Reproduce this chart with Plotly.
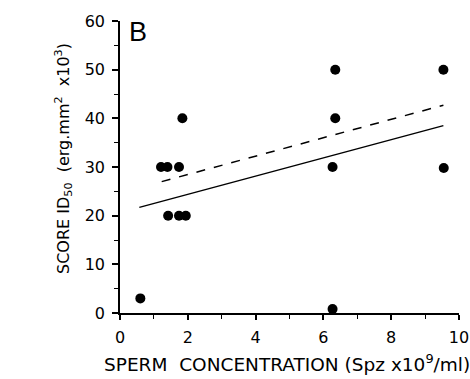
import plotly.graph_objects as go

# Data points (sperm concentration x10^9/ml, score ID50 x10^3)
conc = [0.6, 1.21, 1.40, 1.74, 1.84, 1.42, 1.74, 1.94, 6.35, 6.35, 6.27, 9.54, 9.55, 6.27]
score = [3, 30, 30, 30, 40, 20, 20, 20, 50, 40, 30, 50, 29.8, 0.8]

# Regression lines (endpoints)
solid_x = [0.57, 9.54]
solid_y = [21.7, 38.5]
dash_x = [1.23, 9.54]
dash_y = [27.0, 42.7]

x_ticks = [0, 2, 4, 6, 8, 10]
y_ticks = [0, 10, 20, 30, 40, 50, 60]

FONT = "DejaVu Sans"

fig = go.Figure()
fig.add_trace(go.Scatter(x=solid_x, y=solid_y, mode="lines",
                         line=dict(color="black", width=1.5), showlegend=False))
fig.add_trace(go.Scatter(x=dash_x, y=dash_y, mode="lines",
                         line=dict(color="black", width=1.5, dash="dash"), showlegend=False))
fig.add_trace(go.Scatter(x=conc, y=score, mode="markers",
                         marker=dict(color="black", size=10), showlegend=False))

L, R, T, B = 120, 11, 21, 66
W, H = 470, 379
pw = W - L - R
ph = H - T - B


def px(xp):
    return (xp - L) / pw


def py(yp):
    return (H - B - yp) / ph


fig.update_layout(
    width=W, height=H,
    margin=dict(l=L, r=R, t=T, b=B, autoexpand=False),
    plot_bgcolor="white", paper_bgcolor="white",
    font=dict(family=FONT, color="black", size=16),
    xaxis=dict(range=[0, 10], tickvals=x_ticks, showgrid=False, zeroline=False,
               automargin=False,
               showline=True, linecolor="black", linewidth=1.5,
               ticks="outside", ticklen=5, tickwidth=1.5, tickcolor="black",
               ticklabelstandoff=4,
               minor=dict(tickvals=[1, 3, 5, 7, 9], ticks="outside", ticklen=4,
                          tickwidth=1.2, tickcolor="black"),
               tickfont=dict(size=16, family=FONT)),
    yaxis=dict(range=[0, 60], tickvals=y_ticks, showgrid=False, zeroline=False,
               automargin=False,
               showline=True, linecolor="black", linewidth=1.5,
               ticks="outside", ticklen=6, tickwidth=1.5, tickcolor="black",
               ticklabelstandoff=4,
               minor=dict(tickvals=[5, 15, 25, 35, 45, 55], ticks="outside", ticklen=4,
                          tickwidth=1.2, tickcolor="black"),
               tickfont=dict(size=16, family=FONT)),
    annotations=[
        dict(text="B", x=0.53, y=57.7, xref="x", yref="y", showarrow=False,
             font=dict(size=27, family="Liberation Sans"), xanchor="center", yanchor="middle"),
        dict(text="SCORE ID<sub>50</sub>  (erg.mm<sup>2</sup>  x10<sup>3</sup>)",
             x=px(63), y=py(158), xref="paper", yref="paper", showarrow=False, textangle=-90,
             font=dict(size=16, family=FONT), xanchor="center", yanchor="middle"),
        dict(text="SPERM  CONCENTRATION (Spz x10<sup>9</sup>/ml)",
             x=px(102), y=py(363), xref="paper", yref="paper", showarrow=False,
             font=dict(size=18.5, family=FONT), xanchor="left", yanchor="middle"),
    ],
)

fig.write_html("out.html", config={"displayModeBar": False},
               post_script="document.body.style.margin='0';")
